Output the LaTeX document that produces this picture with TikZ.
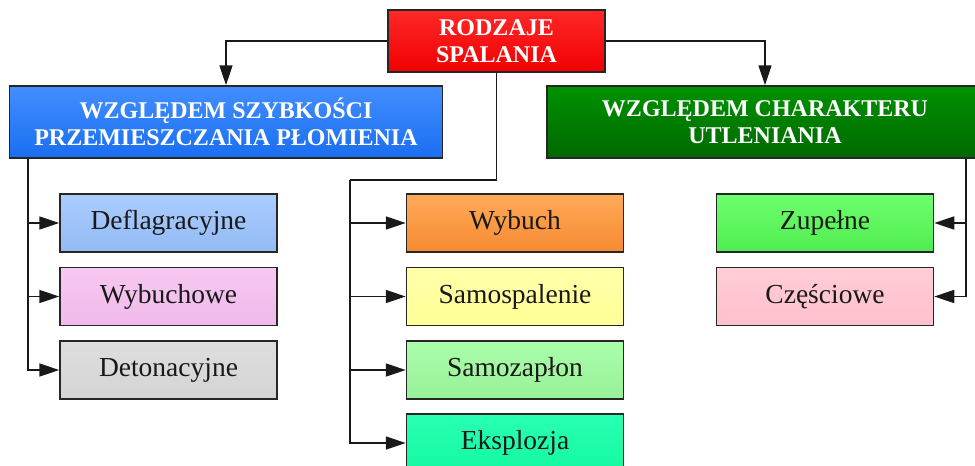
\documentclass[tikz,border=0pt]{standalone}
\usepackage{fontspec}
\setmainfont{Liberation Serif}
\usetikzlibrary{arrows.meta, positioning, calc, shadings}
\definecolor{rootred}{RGB}{255, 40, 40}
\definecolor{rootdark}{RGB}{240, 0, 0}
\definecolor{blue1}{RGB}{66, 142, 255}
\definecolor{blue2}{RGB}{26, 110, 240}
\definecolor{green1}{RGB}{0, 146, 0}
\definecolor{green2}{RGB}{0, 104, 0}

\begin{document}
\begin{tikzpicture}[x=1pt, y=-1pt,
  box/.style={draw=black!85, line width=1.5pt, minimum width=217pt, minimum height=58pt,
    inner sep=0pt, text=black!90, font=\fontsize{27.5}{30}\selectfont},
  head/.style={draw=black!85, line width=1.5pt, minimum height=72pt, inner sep=0pt,
    align=center, text=white, font=\bfseries\fontsize{24}{27}\selectfont},
  conn/.style={line width=1.6pt, black!90},
  arr/.style={conn, -{Triangle[length=20pt, width=13pt]}}]
  \useasboundingbox (0,0) rectangle (975,466);
  \clip (0,0) rectangle (975,466);

  % top level
  \node[head, minimum width=217pt, minimum height=62pt, top color=rootred, bottom color=rootdark]
    (root) at (496.5,41) {RODZAJE\\SPALANIA};
  \node[head, minimum width=433pt, top color=blue1, bottom color=blue2]
    (szyb) at (226,122) {WZGLĘDEM SZYBKOŚCI\\PRZEMIESZCZANIA PŁOMIENIA};
  \node[head, minimum width=436pt, top color=green1, bottom color=green2]
    (charakt) at (765,122) {WZGLĘDEM CHARAKTERU\\UTLENIANIA};

  % left column
  \node[box, top color={rgb,255:red,170;green,205;blue,255}, bottom color={rgb,255:red,148;green,186;blue,245}]
    (defl) at (168.5,223) {Deflagracyjne};
  \node[box, top color={rgb,255:red,247;green,200;blue,242}, bottom color={rgb,255:red,240;green,186;blue,234}]
    (wybuchowe) at (168.5,296.5) {Wybuchowe};
  \node[box, top color={rgb,255:red,222;green,222;blue,222}, bottom color={rgb,255:red,212;green,212;blue,212}]
    (deton) at (168.5,370) {Detonacyjne};

  % middle column
  \node[box, top color={rgb,255:red,255;green,170;blue,90}, bottom color={rgb,255:red,245;green,138;blue,48}]
    (wybuch) at (515,223) {Wybuch};
  \node[box, top color={rgb,255:red,255;green,255;blue,170}, bottom color={rgb,255:red,255;green,255;blue,150}]
    (samosp) at (515,296.5) {Samospalenie};
  \node[box, top color={rgb,255:red,170;green,255;blue,170}, bottom color={rgb,255:red,152;green,240;blue,152}]
    (samozap) at (515,370) {Samozapłon};
  \node[box, top color={rgb,255:red,40;green,255;blue,180}, bottom color={rgb,255:red,20;green,250;blue,160}]
    (eksp) at (515,443) {Eksplozja};

  % right column
  \node[box, top color={rgb,255:red,110;green,255;blue,110}, bottom color={rgb,255:red,80;green,236;blue,80}]
    (zupelne) at (825,223) {Zupełne};
  \node[box, top color={rgb,255:red,255;green,205;blue,214}, bottom color={rgb,255:red,255;green,192;blue,204}]
    (czesc) at (825,296.5) {Częściowe};

  % connectors
  \draw[arr] (root.west) -| (szyb.north);
  \draw[arr] (root.east) -| (charakt.north);

  \coordinate (ltop) at ($(szyb.south west)+(19,0)$);
  \draw[arr] (ltop) |- (deton.west);
  \draw[arr] (ltop |- defl.west) -- (defl.west);
  \draw[arr] (ltop |- wybuchowe.west) -- (wybuchowe.west);

  \coordinate (mtop) at (350,180);
  \draw[conn] (root.south) |- (mtop);
  \draw[arr] (mtop) |- (eksp.west);
  \draw[arr] (mtop |- wybuch.west) -- (wybuch.west);
  \draw[arr] (mtop |- samosp.west) -- (samosp.west);
  \draw[arr] (mtop |- samozap.west) -- (samozap.west);

  \coordinate (rtop) at ($(charakt.south east)+(-18,0)$);
  \draw[arr] (rtop) |- (czesc.east);
  \draw[arr] (rtop |- zupelne.east) -- (zupelne.east);
\end{tikzpicture}
\end{document}
